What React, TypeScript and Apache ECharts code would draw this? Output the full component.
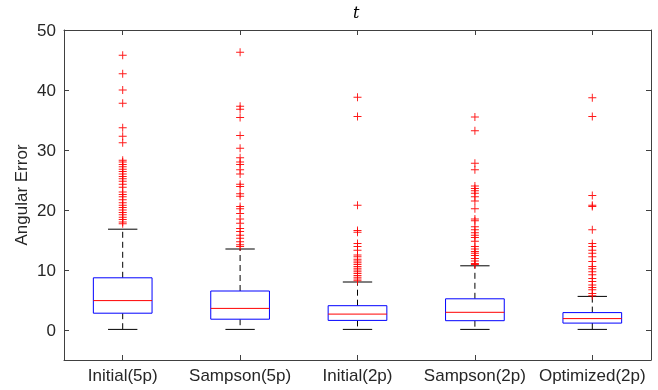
import React, { useEffect, useRef } from "react";
import * as echarts from "echarts";

const categories = ["Initial(5p)", "Sampson(5p)", "Initial(2p)", "Sampson(2p)", "Optimized(2p)"];
const whiskerLow = [0.1, 0.1, 0.1, 0.1, 0.1];
const q1 = [2.8, 1.8, 1.6, 1.55, 1.15];
const median = [4.9, 3.6, 2.65, 2.95, 1.9];
const q3 = [8.7, 6.5, 4.05, 5.2, 2.9];
const whiskerHigh = [16.8, 13.5, 8.0, 10.7, 5.6];

const outliersInitial5p = [45.8, 42.7, 40.0, 37.8, 33.7, 32.3, 31.2, 28.3, 28.0, 27.6, 27.2, 26.8, 26.4, 26.0, 25.6, 25.2, 24.8, 24.3, 23.8, 23.0, 22.6, 22.2, 21.7, 21.2, 20.8, 20.4, 20.0, 19.6, 19.2, 18.8, 18.4, 18.0, 17.7];
const outliersSampson5p = [46.3, 37.3, 36.8, 35.4, 32.4, 30.3, 28.7, 28.0, 27.6, 26.7, 26.0, 24.3, 23.9, 22.7, 22.3, 20.6, 20.2, 19.4, 18.5, 17.8, 16.9, 16.4, 15.8, 15.3, 14.7, 14.2, 13.9];
const outliersInitial2p = [38.8, 35.6, 20.8, 16.6, 16.3, 14.4, 13.9, 13.3, 12.5, 12.2, 11.8, 11.5, 11.2, 10.9, 10.6, 10.3, 10.0, 9.7, 9.4, 9.1, 8.8, 8.5, 8.2];
const outliersSampson2p = [35.5, 33.2, 27.8, 26.7, 24.0, 23.6, 23.2, 22.8, 22.2, 21.5, 20.2, 18.5, 18.2, 17.2, 16.7, 16.2, 15.8, 15.4, 14.8, 13.9, 13.5, 13.1, 12.8, 12.4, 11.9, 11.5, 11.1, 10.9];
const outliersOptimized2p = [38.7, 35.6, 22.4, 20.8, 20.6, 16.7, 14.4, 13.9, 13.3, 12.8, 12.2, 11.4, 10.6, 10.2, 9.7, 9.2, 8.6, 8.1, 7.5, 7.1, 6.7, 6.1, 5.7];
const outliers = [outliersInitial5p, outliersSampson5p, outliersInitial2p, outliersSampson2p, outliersOptimized2p];

const yTicks = [0, 10, 20, 30, 40, 50];
const yMin = -5;
const yMax = 50;

const AXIS_COLOR = "#404040";
const TEXT_COLOR = "#262626";
const FONT = "Liberation Sans, Arial, Helvetica, sans-serif";

export default function App() {
  const ref = useRef<HTMLDivElement>(null);

  useEffect(() => {
    if (!ref.current) return;
    const chart = echarts.init(ref.current, null, { renderer: "svg" });

    const boxData = categories.map((_, i) => [i, whiskerLow[i], q1[i], median[i], q3[i], whiskerHigh[i]]);
    const outlierData: number[][] = [];
    outliers.forEach((arr, i) => arr.forEach((v) => outlierData.push([i, v])));

    const yAxisCommon = {
      type: "value",
      min: yMin,
      max: yMax,
      splitLine: { show: false },
      axisLine: { show: true, lineStyle: { color: AXIS_COLOR, width: 1 } },
    };

    chart.setOption({
      animation: false,
      title: {
        text: "t",
        left: 348,
        top: -1,
        textStyle: { fontFamily: "DejaVu Serif, Liberation Serif, serif", fontStyle: "italic", fontWeight: "normal", fontSize: 16, color: "#000" },
      },
      grid: { left: 64, right: 7, top: 30, bottom: 30, containLabel: false },
      xAxis: [
        {
          type: "category",
          data: categories,
          position: "bottom",
          boundaryGap: true,
          axisLine: { show: true, onZero: false, lineStyle: { color: AXIS_COLOR, width: 1 } },
          axisTick: { show: true, inside: true, alignWithLabel: true, length: 5, lineStyle: { color: AXIS_COLOR } },
          axisLabel: { color: TEXT_COLOR, fontSize: 17, fontFamily: FONT, margin: 7, interval: 0 },
          splitLine: { show: false },
        },
        {
          type: "category",
          data: categories,
          position: "top",
          boundaryGap: true,
          axisLine: { show: true, onZero: false, lineStyle: { color: AXIS_COLOR, width: 1 } },
          axisTick: { show: true, inside: true, alignWithLabel: true, length: 5, lineStyle: { color: AXIS_COLOR } },
          axisLabel: { show: false },
          splitLine: { show: false },
        },
      ],
      yAxis: [
        {
          ...yAxisCommon,
          position: "left",
          name: "Angular Error",
          nameLocation: "middle",
          nameGap: 34,
          nameMoveOverlap: false,
          nameTextStyle: { color: TEXT_COLOR, fontSize: 17, fontFamily: FONT },
          axisTick: { show: true, inside: true, length: 5, customValues: yTicks, lineStyle: { color: AXIS_COLOR } },
          axisLabel: { color: TEXT_COLOR, fontSize: 17, fontFamily: FONT, margin: 8, customValues: yTicks },
        },
        {
          ...yAxisCommon,
          position: "right",
          axisTick: { show: true, inside: true, length: 5, customValues: yTicks, lineStyle: { color: AXIS_COLOR } },
          axisLabel: { show: false, customValues: yTicks },
        },
      ],
      series: [
        {
          type: "custom",
          xAxisIndex: 0,
          yAxisIndex: 0,
          data: boxData,
          encode: { x: 0, y: [1, 2, 3, 4, 5] },
          renderItem: (params: any, api: any) => {
            const idx = api.value(0);
            const pLow = api.coord([idx, api.value(1)]);
            const pQ1 = api.coord([idx, api.value(2)]);
            const pMed = api.coord([idx, api.value(3)]);
            const pQ3 = api.coord([idx, api.value(4)]);
            const pHigh = api.coord([idx, api.value(5)]);
            const bw = api.size([1, 0])[0];
            const bh = bw * 0.25;
            const ch = bw * 0.125;
            const cx = pMed[0];
            const dashStyle = { stroke: "#000", lineWidth: 1, lineDash: [6, 4] };
            const solid = { stroke: "#000", lineWidth: 1 };
            return {
              type: "group",
              children: [
                { type: "line", shape: { x1: cx, y1: pQ3[1], x2: cx, y2: pHigh[1] }, style: dashStyle },
                { type: "line", shape: { x1: cx, y1: pQ1[1], x2: cx, y2: pLow[1] }, style: dashStyle },
                { type: "line", shape: { x1: cx - ch, y1: pHigh[1], x2: cx + ch, y2: pHigh[1] }, style: solid },
                { type: "line", shape: { x1: cx - ch, y1: pLow[1], x2: cx + ch, y2: pLow[1] }, style: solid },
                {
                  type: "rect",
                  shape: { x: cx - bh, y: pQ3[1], width: bh * 2, height: pQ1[1] - pQ3[1] },
                  style: { fill: "#fff", stroke: "#0000ff", lineWidth: 1 },
                },
                { type: "line", shape: { x1: cx - bh, y1: pMed[1], x2: cx + bh, y2: pMed[1] }, style: { stroke: "#ff0000", lineWidth: 1 } },
              ],
            };
          },
          z: 2,
        },
        {
          type: "scatter",
          xAxisIndex: 0,
          yAxisIndex: 0,
          data: outlierData,
          symbol: "path://M-1,-0.12H1V0.12H-1Z M-0.12,-1H0.12V1H-0.12Z",
          symbolSize: 8,
          itemStyle: { color: "#ff0000", opacity: 0.9 },
          z: 3,
        },
      ],
    });

    return () => chart.dispose();
  }, []);

  return <div ref={ref} style={{ position: "fixed", left: 0, top: 0, width: 658, height: 390 }} />;
}
